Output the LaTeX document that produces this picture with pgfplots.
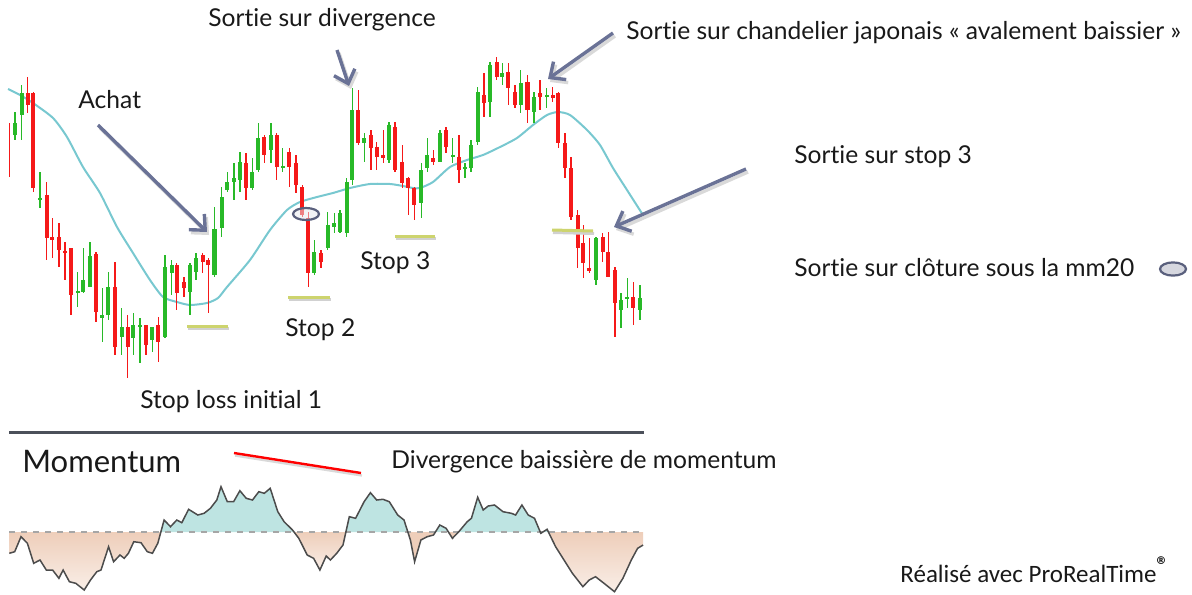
\documentclass[border=0pt]{standalone}
\usepackage{pgfplots}
\pgfplotsset{compat=1.18}
\usepackage{pgfplotstable}
\usetikzlibrary{arrows.meta}
\usepackage{fontspec}
\setmainfont{Lato}[Ligatures=NoCommon]
\newfontfamily\calfont{Carlito}
\definecolor{cred}{RGB}{245,25,25}
\definecolor{cgreen}{RGB}{40,185,40}
\definecolor{ma}{RGB}{120,200,208}
\definecolor{arr}{RGB}{106,114,150}
\definecolor{stopc}{RGB}{205,212,110}
\definecolor{momteal}{RGB}{190,228,226}
\definecolor{momorange}{RGB}{238,206,186}
\definecolor{sep}{RGB}{75,80,90}
\definecolor{ell}{RGB}{90,96,125}

% pixel coordinates: x, wick top, wick bottom, body top, body bottom
\pgfplotstableread{
x wt wb bt bb
9.3 123 177 150 150
27.7 77 113 93 105
33.3 92 192 93 188
46.7 182 260 195 238
52.3 218 258 237 240
59 223 267 237 250
65 242 280 251 253
71 248 315 248 295
96 252 322 254 312
115 262 355 287 347
127.7 315 378 327 347
146 325 355 325 345
158.3 317 362 325 342
176.7 263 310 265 293
184 277 297 282 288
202.7 253 273 255 262
208.3 258 313 260 265
246 153 200 163 188
264.3 135 163 137 155
276.7 133 180 135 167
289.3 148 187 152 167
296 155 193 163 185
302.3 185 217 187 215
308.3 212 287 218 273
321 250 268 253 262
358.3 90 145 110 143
371 130 170 135 148
376.7 142 170 147 157
383.3 130 163 155 158
395 122 172 127 170
402.3 145 188 162 183
408.3 177 215 178 188
414.3 187 220 188 205
433.3 150 165 158 162
446 127 153 130 147
459 135 183 157 170
484 73 117 95 103
496.7 57 80 62 77
508.3 63 105 72 88
515 85 108 92 105
527.5 75 123 82 110
540 80 110 93 97
552.7 87 102 95 98
558.3 92 148 93 143
565 133 178 143 168
571 157 220 168 217
577.7 210 268 215 248
583.3 225 278 243 263
589.3 238 273 268 271
602.7 233 262 237 252
608.3 232 277 252 277
615 267 337 270 303
633.3 282 325 297 308
}\redc

\pgfplotstableread{
x wt wb bt bb
15 112 140 123 135
21.7 85 140 93 115
40 172 208 198 200
77.7 272 307 291 293
83.3 248 293 280 292
90 242 287 256 287
102.3 288 342 315 318
108.3 272 320 287 315
121.7 308 355 327 337
133.3 313 355 325 338
140 318 363 325 327
152.3 327 352 327 340
165 255 338 267 337
171.7 260 295 265 273
190 263 315 265 292
196 253 280 258 272
214.5 207 277 229 275
221.7 187 237 197 228
227.3 172 192 182 190
234 163 200 178 182
240 152 192 162 180
252.3 158 190 172 188
258.3 123 172 138 170
271 123 163 135 150
282.7 148 172 166 168
314.3 240 275 252 273
327.7 212 250 225 248
334.3 213 233 223 227
340 210 233 213 232
346.7 178 237 182 233
352.3 88 185 110 180
364.3 133 162 138 143
389 122 163 125 160
421.3 163 218 170 203
427.3 138 172 155 168
440 130 162 133 162
452.7 138 163 155 157
465 163 178 167 169
471 140 172 145 168
477.7 87 145 92 142
490 62 117 65 102
502.3 63 85 73 77
520.7 70 113 83 105
534 92 123 97 112
546.7 88 108 95 97
596 237 285 238 280
621 293 328 300 310
627.3 278 308 297 299
640 285 320 298 310
}\greenc

\begin{document}
\begin{tikzpicture}
\begin{axis}[scale only axis, width=596pt, height=297pt,
  xmin=0, xmax=1192, ymin=0, ymax=594, y dir=reverse,
  hide axis, clip=false]
\coordinate (SW) at (axis cs:0,594);
\coordinate (NE) at (axis cs:1192,0);

% moving average
\addplot[ma, line width=1pt, smooth, tension=0.4] coordinates {
(8,89)(20,95)(33,103)(53,118)(67,137)(83,167)(100,193)(117,227)(133,253)
(150,280)(163,297)(177,302)(190,305)(207,303)(218,298)(227,287)(250,260)
(270,230)(287,210)(300,202)(317,197)(333,193)(350,188)(370,184)(390,184)
(403,186)(413,188)(420,188)(433,182)(450,167)(467,160)(483,155)(500,147)
(517,138)(533,125)(547,115)(558,112)(570,115)(587,130)(600,145)(613,168)
(627,190)(643,215)};

% candles: wicks
\addplot[draw=none, mark=none, error bars/.cd, y dir=plus, y explicit,
  error mark=none, error bar style={draw=cred, line width=0.7pt}]
  table[x=x, y=wt, y error plus expr=\thisrow{wb}-\thisrow{wt}] {\redc};
\addplot[draw=none, mark=none, error bars/.cd, y dir=plus, y explicit,
  error mark=none, error bar style={draw=cgreen, line width=0.7pt}]
  table[x=x, y=wt, y error plus expr=\thisrow{wb}-\thisrow{wt}] {\greenc};
% candles: bodies
\addplot[draw=none, mark=none, error bars/.cd, y dir=plus, y explicit,
  error mark=none, error bar style={draw=cred, line width=2.1pt}]
  table[x=x, y=bt, y error plus expr=\thisrow{bb}-\thisrow{bt}] {\redc};
\addplot[draw=none, mark=none, error bars/.cd, y dir=plus, y explicit,
  error mark=none, error bar style={draw=cgreen, line width=2.1pt}]
  table[x=x, y=bt, y error plus expr=\thisrow{bb}-\thisrow{bt}] {\greenc};

% stop lines (shadow + line)
\addplot[black!18, line width=1.5pt] coordinates {(188,328.5)(229,328.5)};
\addplot[stopc, line width=1.5pt] coordinates {(187,326)(228,326)};
\addplot[black!18, line width=1.5pt] coordinates {(289,299.5)(331,299.5)};
\addplot[stopc, line width=1.5pt] coordinates {(288,297)(330,297)};
\addplot[black!18, line width=1.5pt] coordinates {(396,238.5)(436,238.5)};
\addplot[stopc, line width=1.5pt] coordinates {(395,236)(435,236)};
\addplot[black!18, line width=1.5pt] coordinates {(553,232.5)(594,233.5)};
\addplot[stopc, line width=1.5pt] coordinates {(552,230)(593,231)};

% ellipse on chart
\draw[ell, line width=1.1pt, fill=ell!15, fill opacity=0.5] (axis cs:306,214) ellipse [x radius=6.5pt, y radius=3pt];

% arrows
\begin{scope}[line width=1.7pt, arr]
\draw[black!15, xshift=1pt, yshift=-1.5pt, -{Straight Barb[length=6pt,width=11pt]}] (axis cs:98,125) -- (axis cs:207,232);
\draw[-{Straight Barb[length=6pt,width=11pt]}] (axis cs:98,125) -- (axis cs:207,232);
\draw[black!15, xshift=1pt, yshift=-1.5pt, -{Straight Barb[length=6pt,width=11pt]}] (axis cs:337,50) -- (axis cs:349,86);
\draw[-{Straight Barb[length=6pt,width=11pt]}] (axis cs:337,50) -- (axis cs:349,86);
\draw[black!15, xshift=1pt, yshift=-1.5pt, -{Straight Barb[length=6pt,width=11pt]}] (axis cs:613,33) -- (axis cs:548,79);
\draw[-{Straight Barb[length=6pt,width=11pt]}] (axis cs:613,33) -- (axis cs:548,79);
\draw[black!15, xshift=1pt, yshift=-1.5pt, -{Straight Barb[length=6pt,width=11pt]}] (axis cs:746,169) -- (axis cs:614,227);
\draw[-{Straight Barb[length=6pt,width=11pt]}] (axis cs:746,169) -- (axis cs:614,227);
\end{scope}

% separator
\addplot[sep, line width=1.5pt] coordinates {(9,432)(644,432)};

% momentum areas (segments of the momentum curve closed on the zero line)
\addplot[draw=none, top color=momorange, bottom color=momorange!35] coordinates {
(9.3,532)(9.3,553.3)(14.7,551.7)(21.0,536.7)(27.4,543.3)(33.7,563.3)(40.0,560)(46.3,570)
(52.6,570)(58.9,578.3)(63.1,570)(69.4,581.7)(75.8,583.3)(84.2,590)(90.5,580)
(96.8,571.7)(101.0,570)(108.6,546.7)(113.6,561.7)(120.0,555)(124.2,558.3)
(128.4,553.3)(133.8,541.7)(141.0,542.7)(147.3,551.7)(152.4,553.3)(157.8,543.3)(160.9,532)};
\addplot[draw=none, fill=momteal] coordinates {
(160.9,532)(164.1,520)(170.5,526.7)(176.8,520)(181.8,522.7)(188.6,509.3)(197.8,515)
(204.1,513.3)(210.4,508.3)(216.8,500)(221.0,486.7)(227.3,501.7)(233.6,501.7)
(239.9,490.7)(246.2,498.3)(252.5,500)(258.8,491.7)(264.3,493.3)(270.2,488.3)
(277.8,511.7)(284.1,521.7)(292.5,530)(294.0,532)};
\addplot[draw=none, top color=momorange, bottom color=momorange!35] coordinates {
(294.0,532)(298.8,538.3)(307.2,555)(313.6,558.3)
(319.9,570)(326.2,556)(330.4,560)(336.7,553.3)(343.0,545)(345.9,532)};
\addplot[draw=none, fill=momteal] coordinates {
(345.9,532)(349.3,516.7)
(355.6,518.3)(364.1,501.7)(370.4,492.7)(376.7,500)(383.0,499.3)(389.3,501.7)
(397.7,515)(404.0,520)(407.8,532)};
\addplot[draw=none, fill=momorange] coordinates {
(407.8,532)(410.4,540)(414.6,561.7)(420.9,540)(427.2,536.7)(433.5,535)(435.4,532)};
\addplot[draw=none, fill=momteal] coordinates {
(435.4,532)(439.8,525)(446.1,528.3)(448.4,532)};
\addplot[draw=none, fill=momorange] coordinates {
(448.4,532)(452.4,538.3)(458.5,532)};
\addplot[draw=none, fill=momteal] coordinates {
(458.5,532)(467.2,521.7)
(471.4,518.3)(477.7,497.3)(483.2,510)(488.2,506)(494.5,505)(503.0,511.7)
(511.4,513.3)(515.6,515)(521.9,505)(528.2,515)(534.5,518.3)(540.3,532)
(542.8,532)(547.1,529.3)(548.4,532)};
\addplot[draw=none, top color=momorange, bottom color=momorange!35] coordinates {
(548.4,532)(555.6,546.7)(564.0,560)(572.4,573.3)(582.9,586.7)(589.2,580)
(595.5,576.7)(604.0,583.3)(614.5,591.7)(622.9,578.3)(631.3,560)(637.6,548.3)
(643.1,545)(643.1,532)};

\addplot[black!35, dashed, line width=0.8pt] coordinates {(9,532)(644,532)};
\addplot[black!70, line width=0.75pt] coordinates {
(9.3,553.3)(14.7,551.7)(21.0,536.7)(27.4,543.3)(33.7,563.3)(40.0,560)(46.3,570)
(52.6,570)(58.9,578.3)(63.1,570)(69.4,581.7)(75.8,583.3)(84.2,590)(90.5,580)
(96.8,571.7)(101.0,570)(108.6,546.7)(113.6,561.7)(120.0,555)(124.2,558.3)
(128.4,553.3)(133.8,541.7)(141.0,542.7)(147.3,551.7)(152.4,553.3)(157.8,543.3)
(164.1,520)(170.5,526.7)(176.8,520)(181.8,522.7)(188.6,509.3)(197.8,515)
(204.1,513.3)(210.4,508.3)(216.8,500)(221.0,486.7)(227.3,501.7)(233.6,501.7)
(239.9,490.7)(246.2,498.3)(252.5,500)(258.8,491.7)(264.3,493.3)(270.2,488.3)
(277.8,511.7)(284.1,521.7)(292.5,530)(298.8,538.3)(307.2,555)(313.6,558.3)
(319.9,570)(326.2,556)(330.4,560)(336.7,553.3)(343.0,545)(349.3,516.7)
(355.6,518.3)(364.1,501.7)(370.4,492.7)(376.7,500)(383.0,499.3)(389.3,501.7)
(397.7,515)(404.0,520)(410.4,540)(414.6,561.7)(420.9,540)(427.2,536.7)
(433.5,535)(439.8,525)(446.1,528.3)(452.4,538.3)(458.8,531.7)(467.2,521.7)
(471.4,518.3)(477.7,497.3)(483.2,510)(488.2,506)(494.5,505)(503.0,511.7)
(511.4,513.3)(515.6,515)(521.9,505)(528.2,515)(534.5,518.3)(540.8,533.3)
(547.1,529.3)(555.6,546.7)(564.0,560)(572.4,573.3)(582.9,586.7)(589.2,580)
(595.5,576.7)(604.0,583.3)(614.5,591.7)(622.9,578.3)(631.3,560)(637.6,548.3)
(643.1,545)};

% red divergence line
\addplot[black!15, line width=1.2pt] coordinates {(235,455.5)(362,475.5)};
\addplot[red, line width=1.2pt] coordinates {(234,453)(361,473)};

% texts
\begin{scope}[every node/.style={anchor=west, inner sep=0pt, text=black!90, font=\fontsize{12.3}{14}\selectfont}]
\node at (axis cs:208,20) {Sortie sur divergence};
\node at (axis cs:626,33) {Sortie sur chandelier japonais « avalement baissier »};
\node at (axis cs:78,100) {Achat};
\node at (axis cs:794,157) {Sortie sur stop 3};
\node at (axis cs:794,268) {Sortie sur clôture sous la mm20};
\node at (axis cs:360,263) {Stop 3};
\node at (axis cs:285,330) {Stop 2};
\node at (axis cs:140,402) {Stop loss initial 1};
\node at (axis cs:391,462) {Divergence baissière de momentum};
\node[font=\fontsize{15.5}{18}\selectfont] at (axis cs:22,462) {Momentum};
\node[font=\calfont\fontsize{12.5}{14}\selectfont] at (axis cs:900,570) {Réalisé avec ProRealTime\textsuperscript{\textbf{\large ®}}};
\end{scope}
\draw[ell, line width=1.1pt, fill=ell!25] (axis cs:1173,269) ellipse [x radius=6.5pt, y radius=3.3pt];
\end{axis}
\pgfresetboundingbox
\path (SW) rectangle (NE);
\end{tikzpicture}
\end{document}
